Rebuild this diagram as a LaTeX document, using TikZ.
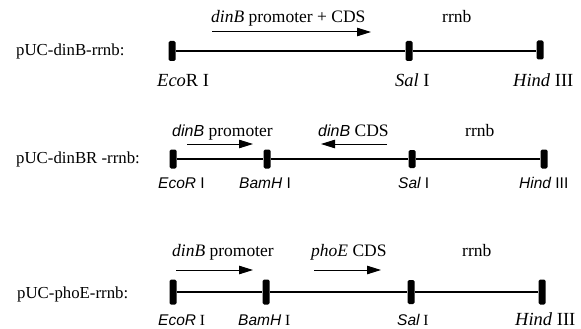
\documentclass[tikz,border=0pt]{standalone}
\usepackage{fontspec}
\setmainfont{Liberation Serif}
\newfontfamily\sfont{Liberation Sans}
\usetikzlibrary{arrows.meta}
\tikzset{
  mk/.style={fill=black, draw=none, rounded corners=1.5pt, minimum width=7pt, inner sep=0pt},
  bb/.style={line width=1.2pt},
  arr/.style={line width=1pt, -{Triangle[length=14pt,width=8.5pt]}},
  lab/.style={inner sep=0pt, anchor=base west, font=\fontsize{17.5}{20}\selectfont},
  plab/.style={inner sep=0pt, anchor=base west, font=\fontsize{16.8}{20}\selectfont},
  elab/.style={inner sep=0pt, anchor=base west, font=\fontsize{18.5}{21}\selectfont},
  slab/.style={inner sep=0pt, anchor=base west, font=\fontsize{15.5}{18}\selectfont},
}
\begin{document}
\begin{tikzpicture}[x=1pt,y=-1pt]
\useasboundingbox (0,0) rectangle (581,329);
% ---------- Row 1
\node[lab] (t1a) at (211,23) {\textit{dinB} promoter + CDS};
\node[lab] (t1b) at (442,23) {rrnb};
\coordinate (a1s) at (212,32);
\coordinate (a1e) at (371,32);
\draw[arr] (a1s) -- (a1e);
\node[plab] (n1) at (16,56) {pUC-dinB-rrnb:};
\node[mk, minimum height=20pt] (m1a) at (172,51) {};
\node[mk, minimum height=20pt] (m1b) at (409,51) {};
\node[mk, minimum height=19pt] (m1c) at (540,50) {};
\draw[bb] (m1a) -- (m1b);
\draw[bb] (m1b.east) -- (m1c.west |- m1b.east);
\node[elab] (e1a) at (157,87) {\textit{Eco}R I};
\node[elab] (e1b) at (395,87) {\textit{Sal} I};
\node[elab] (e1c) at (513,87) {\textit{Hind} III};
% ---------- Row 2
\node[lab] (t2a) at (172,136) {{\sfont\itshape\fontsize{16}{18}\selectfont dinB} promoter};
\node[lab] (t2b) at (318,136) {{\sfont\itshape\fontsize{16}{18}\selectfont dinB} CDS};
\node[lab] (t2c) at (465,136) {rrnb};
\coordinate (a2s) at (187,144);
\coordinate (a2e) at (253,144);
\draw[arr] (a2s) -- (a2e);
\coordinate (a3s) at (387,144);
\coordinate (a3e) at (321,144);
\draw[arr] (a3s) -- (a3e);
\node[plab] (n2) at (16,163) {pUC-dinBR -rrnb:};
\node[mk, minimum height=19pt] (m2a) at (173,159) {};
\node[mk, minimum height=19pt] (m2b) at (267,159) {};
\node[mk, minimum height=18pt] (m2c) at (412,159) {};
\node[mk, minimum height=19pt] (m2d) at (544,159) {};
\draw[bb] (m2a) -- (m2b);
\draw[bb] (m2b) -- (m2c);
\draw[bb] (m2c) -- (m2d);
\node[slab] (e2a) at (158,188) {\sfont\itshape EcoR\upshape\ I};
\node[slab] (e2b) at (239,188) {\sfont\itshape BamH\upshape\ I};
\node[slab] (e2c) at (398,188) {\sfont\itshape Sal\upshape\ I};
\node[slab] (e2d) at (519,188) {\sfont\itshape Hind\upshape\ III};
% ---------- Row 3
\node[lab] (t3a) at (172,256) {\textit{dinB} promoter};
\node[lab] (t3b) at (311,256) {\textit{phoE} CDS};
\node[lab] (t3c) at (462,256) {rrnb};
\coordinate (a4s) at (176,270);
\coordinate (a4e) at (253,270);
\draw[arr] (a4s) -- (a4e);
\coordinate (a5s) at (314,270);
\coordinate (a5e) at (381,270);
\draw[arr] (a5s) -- (a5e);
\node[plab] (n3) at (17,298) {pUC-phoE-rrnb:};
\node[mk, minimum height=25pt] (m3a) at (173,292) {};
\node[mk, minimum height=25pt] (m3b) at (266,292) {};
\node[mk, minimum height=24pt] (m3c) at (411,292) {};
\node[mk, minimum height=25pt] (m3d) at (542,292) {};
\draw[bb] (m3a) -- (m3b);
\draw[bb] (m3b) -- (m3c);
\draw[bb] (m3c) -- (m3d);
\node[slab] (e3a) at (158,325) {{\sfont\itshape EcoR} I};
\node[slab] (e3b) at (238,325) {{\sfont\itshape BamH} I};
\node[slab] (e3c) at (397,325) {{\sfont\itshape Sal} I};
\node[elab] (e3d) at (515,325) {\textit{Hind} III};
\end{tikzpicture}
\end{document}
